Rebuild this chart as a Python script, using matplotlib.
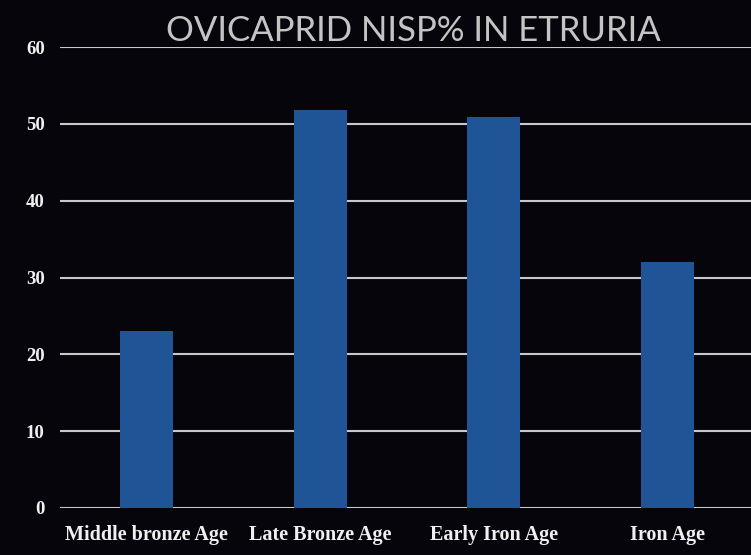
import matplotlib
matplotlib.use('Agg')
import matplotlib.pyplot as plt
import numpy as np

# Ovicaprid NISP% by period
periods = ['Middle bronze Age', 'Late Bronze Age', 'Early Iron Age', 'Iron Age']
nisp_pct = [23.0, 51.8, 50.9, 32.0]
y_ticks = [0, 10, 20, 30, 40, 50, 60]

bg = '#05050b'
bar_color = '#1f5596'
grid_color = '#c8c8c8'

fig = plt.figure(figsize=(7.51, 5.55), dpi=100, facecolor=bg)
ax = fig.add_axes([0.0799, 0.0847, 0.9201, 0.8306], facecolor=bg)

x = np.arange(len(periods))
ax.bar(x, nisp_pct, width=0.305, color=bar_color, zorder=3)

ax.set_xlim(-0.5, 3.484)
ax.set_ylim(0, 60)
ax.set_yticks(y_ticks)
ax.yaxis.grid(True, color=grid_color, linewidth=1.5, zorder=1)
ax.set_axisbelow(True)

for s in ax.spines.values():
    s.set_visible(False)
ax.tick_params(length=0)

ax.set_xticks(x)
ax.set_xticklabels(periods, family='Liberation Serif', weight='bold',
                   size=14.5, color='#f0f0f0')
ax.set_yticklabels([str(v) for v in y_ticks], family='Liberation Serif',
                   weight='bold', size=13.5, color='#f0f0f0')
ax.tick_params(axis='x', pad=12)
ax.tick_params(axis='y', pad=11)

fig.text(0.551, 0.944, 'OVICAPRID NISP% IN ETRURIA', ha='center', va='center',
         fontsize=25, family='Lato', fontweight='normal', color='#c4c4c4')

fig.savefig('out.png', dpi=100, facecolor=bg)
